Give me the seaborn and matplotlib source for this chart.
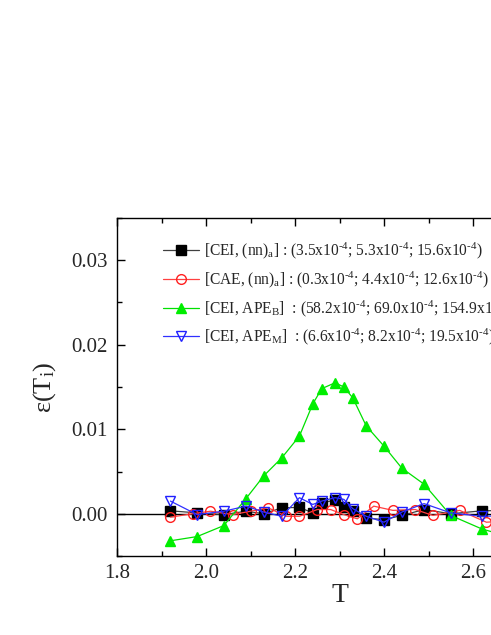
import numpy as np
import pandas as pd
import seaborn as sns
import matplotlib
matplotlib.use('Agg')
import matplotlib.pyplot as plt
from matplotlib.ticker import MultipleLocator

# du lieu doc tu hinh
T_cei_nn = [1.92, 1.98, 2.04, 2.09, 2.13, 2.17, 2.21, 2.24, 2.26, 2.29, 2.31, 2.33, 2.36, 2.40, 2.44, 2.49, 2.55, 2.62, 2.70]
eps_cei_nn = [0.00035, 0.0001, -0.0001, 0.0003, 0.0, 0.0007, 0.00075, 0.0001, 0.0013, 0.0016, 0.0008, 0.00035,
              -0.0005, -0.0007, -0.0002, 0.0005, 0.0, 0.00035, 0.0004]

T_cae_nn = [1.92, 1.97, 2.01, 2.06, 2.10, 2.14, 2.18, 2.21, 2.25, 2.28, 2.31, 2.34, 2.377, 2.42, 2.47, 2.51, 2.57, 2.63, 2.70]
eps_cae_nn = [-0.0004, 0.0, 0.0003, -0.0001, 0.0003, 0.0007, -0.0003, -0.0003, 0.0005, 0.0005, -0.0001, -0.0006,
              0.0009, 0.0004, 0.0005, -0.0002, 0.0004, -0.001, -0.0008]

T_cei_apeb = [1.92, 1.98, 2.04, 2.09, 2.13, 2.17, 2.21, 2.24, 2.26, 2.29, 2.31, 2.33, 2.36, 2.40, 2.44, 2.49, 2.55, 2.62, 2.70]
eps_cei_apeb = [-0.0032, -0.0027, -0.0014, 0.0018, 0.0045, 0.0066, 0.0092, 0.0130, 0.0148, 0.0155, 0.0150, 0.0137,
                0.0104, 0.0080, 0.0054, 0.0035, -0.0002, -0.0018, -0.0030]

T_cei_apem = [1.92, 1.98, 2.04, 2.09, 2.13, 2.17, 2.21, 2.24, 2.26, 2.29, 2.31, 2.33, 2.36, 2.40, 2.44, 2.49, 2.55, 2.62, 2.70]
eps_cei_apem = [0.0015, -0.0001, 0.0003, 0.0009, 0.0002, -0.0003, 0.0019, 0.0011, 0.0015, 0.0019, 0.0017, 0.0006,
                -0.0003, -0.001, 0.0002, 0.0012, 0.0001, -0.0003, -0.0002]

labels = [
    r'[CEI, (nn)$_\mathrm{a}$] : (3.5x10$^{\text{-}4}$; 5.3x10$^{\text{-}4}$; 15.6x10$^{\text{-}4}$)',
    r'[CAE, (nn)$_\mathrm{a}$] : (0.3x10$^{\text{-}4}$; 4.4x10$^{\text{-}4}$; 12.6x10$^{\text{-}4}$)',
    r'[CEI, APE$_\mathrm{B}$]  : (58.2x10$^{\text{-}4}$; 69.0x10$^{\text{-}4}$; 154.9x10$^{\text{-}4}$)',
    r'[CEI, APE$_\mathrm{M}$]  : (6.6x10$^{\text{-}4}$; 8.2x10$^{\text{-}4}$; 19.5x10$^{\text{-}4}$)',
]

sns.set_style('ticks')
plt.rcParams['font.family'] = ['Liberation Serif', 'DejaVu Serif']
plt.rcParams['mathtext.fontset'] = 'custom'
plt.rcParams['mathtext.rm'] = 'Liberation Serif'
plt.rcParams['mathtext.it'] = 'Liberation Serif:italic'

fig = plt.figure(figsize=(4.91, 6.35), dpi=100)
ax = fig.add_axes([0.2383, 0.1244, 0.9063, 0.5323])

ax.axhline(0, color='black', lw=1.0, zorder=1)

series = [
    (T_cei_nn, eps_cei_nn, '#404040', 's', 'black', 'black', 6.5),
    (T_cae_nn, eps_cae_nn, '#ff4040', 'o', 'none', '#ff2020', 7),
    (T_cei_apeb, eps_cei_apeb, '#00e000', '^', '#00ee00', '#00ee00', 7.5),
    (T_cei_apem, eps_cei_apem, '#3030ff', 'v', 'none', '#2020ff', 7.5),
]
for (x, y, lc, mk, mfc, mec, ms), lab in zip(series, labels):
    df = pd.DataFrame({'T': x, 'eps': y})
    sns.lineplot(data=df, x='T', y='eps', ax=ax, color=lc, lw=0.9, marker=mk,
                 markersize=ms, markerfacecolor=mfc, markeredgecolor=mec, markeredgewidth=1.0,
                 label=lab, sort=False)

ax.set_xlim(1.8, 2.8)
ax.set_ylim(-0.005, 0.035)
ax.xaxis.set_major_locator(MultipleLocator(0.2))
ax.xaxis.set_minor_locator(MultipleLocator(0.1))
ax.yaxis.set_major_locator(MultipleLocator(0.01))
ax.yaxis.set_minor_locator(MultipleLocator(0.005))
ax.yaxis.set_major_formatter(matplotlib.ticker.FormatStrFormatter('%.2f'))
ax.tick_params(which='both', direction='in', top=True, right=True, labelsize=15, width=1.0, color='black')
ax.tick_params(which='major', length=6)
ax.tick_params(axis='x', which='major', pad=6)
ax.tick_params(axis='y', which='major', pad=7)
ax.tick_params(which='minor', length=3.5)
for s in ax.spines.values():
    s.set_linewidth(1.0)
    s.set_color('black')

ax.set_xlabel('T', fontsize=20, labelpad=0)
ax.set_ylabel(r'ε(T$_\mathrm{i}$)', fontsize=19, labelpad=9)

ax.legend(loc='upper left', bbox_to_anchor=(0.103, 0.932), frameon=False, fontsize=11.2,
          handlelength=2.35, handletextpad=0.3, labelspacing=0.52, borderaxespad=0, borderpad=0)

fig.savefig('out.png', dpi=100)
